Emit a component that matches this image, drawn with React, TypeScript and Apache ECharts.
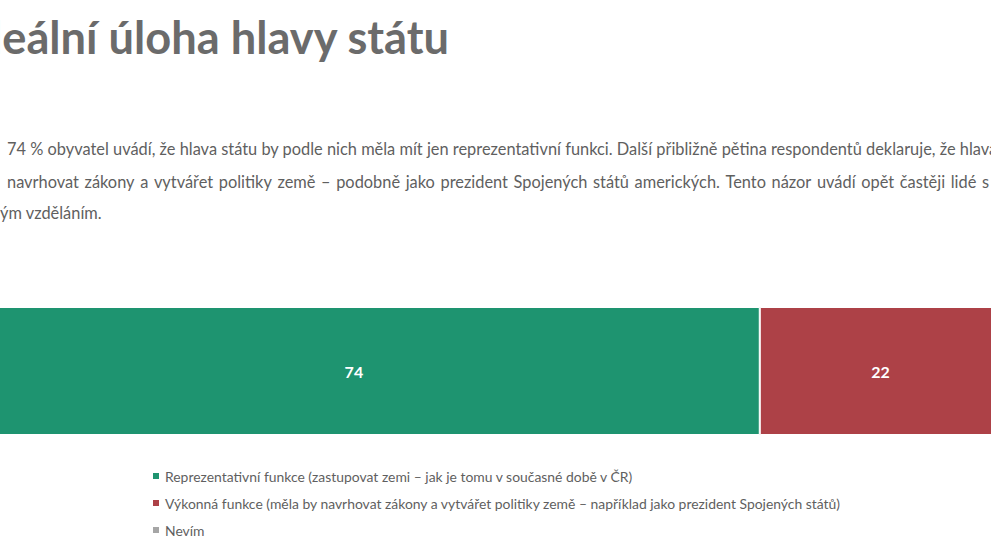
import React, { useEffect, useRef } from "react";
import * as echarts from "echarts";

// ---- data ----
const titleText = "Ideální úloha hlavy státu";
const titleVisiblePart = "eální úloha hlavy státu";
const line1 =
  "74 % obyvatel uvádí, že hlava státu by podle nich měla mít jen reprezentativní funkci. Další přibližně pětina respondentů deklaruje, že hlava";
const line1Fit =
  "74 % obyvatel uvádí, že hlava státu by podle nich měla mít jen reprezentativní funkci. Další přibližně pětina respondentů deklaruje, že hlav";
const line2 =
  "navrhovat zákony a vytvářet politiky země – podobně jako prezident Spojených států amerických. Tento názor uvádí opět častěji lidé s";
const line3 = "ým vzděláním.";

const categories = ["Ideální úloha hlavy státu"];
const seriesNames = [
  "Reprezentativní funkce (zastupovat zemi – jak je tomu v současné době v ČR)",
  "Výkonná funkce (měla by navrhovat zákony a vytvářet politiky země – například jako prezident Spojených států)",
  "Nevím",
];
const reprezentativni = [74];
const vykonna = [22];
const nevim = [4];
const seriesColors = ["#1e9470", "#ad4147", "#a6a6a6"];
const labelVisible = [true, true, false];

const FONT = "Lato, 'Open Sans', sans-serif";

function measure(text: string, size: number, weight: string) {
  const c = document.createElement("canvas").getContext("2d")!;
  c.font = `${weight} ${size}px ${FONT}`;
  return c.measureText(text).width;
}
function fitSize(text: string, target: number, weight: string) {
  const w = measure(text, 20, weight);
  return (20 * target) / w;
}

export default function App() {
  const ref = useRef<HTMLDivElement>(null);
  useEffect(() => {
    if (!ref.current) return;
    const chart = echarts.init(ref.current, undefined, { renderer: "svg" });

    const titleSize = fitSize(titleVisiblePart, 448, "bold");
    const bodySize = fitSize(line1Fit, 984, "normal");
    const legendSize = fitSize(seriesNames[1], 677, "normal");

    // justified line 2
    const words = line2.split(" ");
    const widths = words.map((w) => measure(w, bodySize, "normal"));
    const x0 = 7;
    const x1 = 989;
    const total = widths.reduce((a, b) => a + b, 0);
    const gap = (x1 - x0 - total) / (words.length - 1);
    let cx = x0;
    const line2Graphics = words.map((w, i) => {
      const g = {
        type: "text",
        x: cx,
        y: 181,
        style: {
          text: w,
          fill: "#5f5f5f",
          font: `normal ${bodySize}px ${FONT}`,
          textAlign: "left",
          textVerticalAlign: "middle",
        },
      };
      cx += widths[i] + gap;
      return g;
    });

    const option: any = {
      animation: false,
      grid: {
        left: -52,
        top: 307,
        width: 1097,
        height: 128,
        outerBoundsMode: "none",
        containLabel: false,
      },
      xAxis: { type: "value", min: 0, max: 100, show: false },
      yAxis: { type: "category", data: categories, show: false },
      legend: {
        orient: "vertical",
        left: 146,
        top: 463,
        itemWidth: 8,
        itemHeight: 8,
        itemGap: 11,
        icon: "rect",
        textStyle: {
          color: "#5f5f5f",
          fontSize: legendSize,
          fontFamily: FONT,
          lineHeight: 16,
        },
        data: seriesNames,
      },
      series: [reprezentativni, vykonna, nevim].map((d, i) => ({
        name: seriesNames[i],
        type: "bar",
        stack: "total",
        data: d,
        barWidth: 128,
        itemStyle: { color: seriesColors[i], borderColor: "#ffffff", borderWidth: 1 },
        label: {
          show: labelVisible[i],
          position: "inside",
          color: "#ffffff",
          fontWeight: "bold",
          fontSize: 16,
          fontFamily: FONT,
        },
      })),
      graphic: [
        {
          type: "text",
          x: 449,
          y: 36,
          style: {
            text: titleText,
            fill: "#6b6b6b",
            font: `bold ${titleSize}px ${FONT}`,
            textAlign: "right",
            textVerticalAlign: "middle",
          },
        },
        {
          type: "text",
          x: 7,
          y: 148,
          style: {
            text: line1,
            fill: "#5f5f5f",
            font: `normal ${bodySize}px ${FONT}`,
            textAlign: "left",
            textVerticalAlign: "middle",
          },
        },
        ...line2Graphics,
        {
          type: "text",
          x: 0,
          y: 212,
          style: {
            text: line3,
            fill: "#5f5f5f",
            font: `normal ${bodySize}px ${FONT}`,
            textAlign: "left",
            textVerticalAlign: "middle",
          },
        },
      ],
    };
    chart.setOption(option);
    return () => chart.dispose();
  }, []);
  return (
    <div
      ref={ref}
      style={{ position: "absolute", left: 0, top: 0, width: 991, height: 558, background: "#ffffff" }}
    />
  );
}
